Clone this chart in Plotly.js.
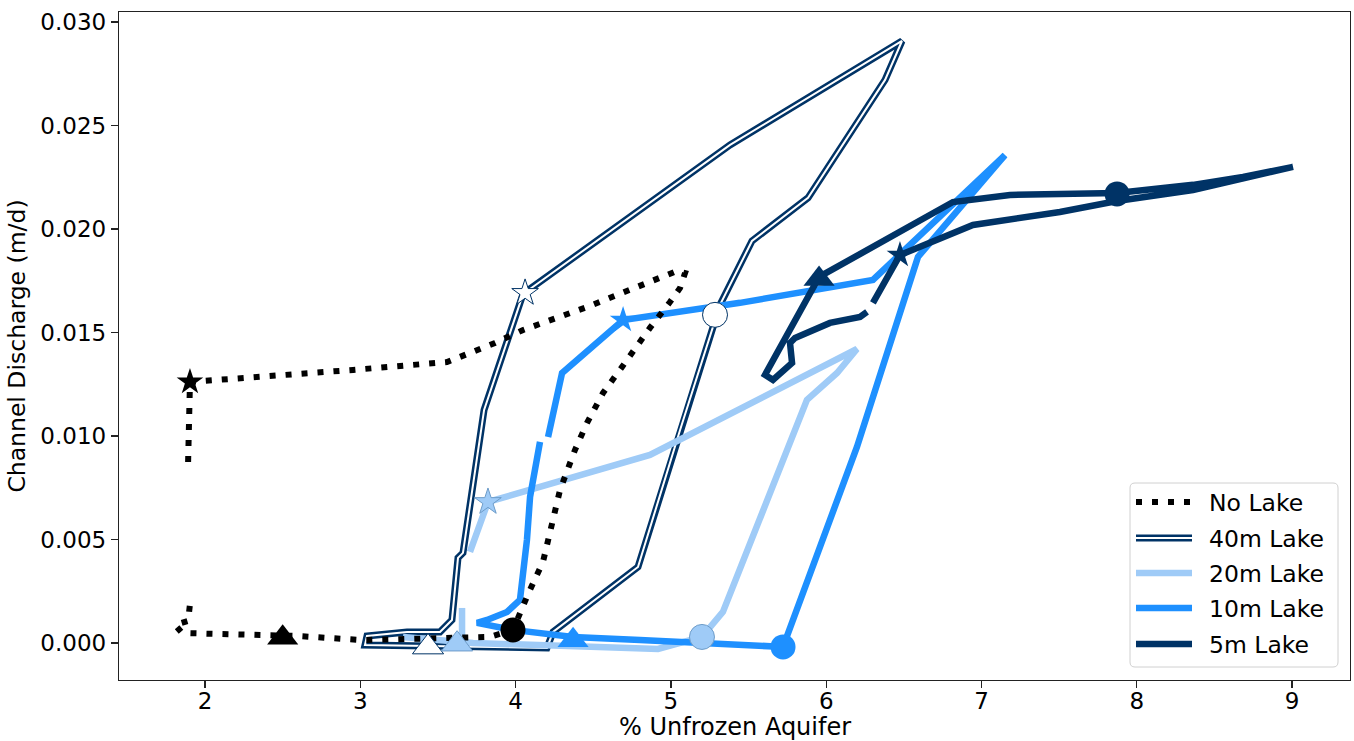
<!DOCTYPE html>
<html><head><meta charset="utf-8">
<script src="https://cdn.plot.ly/plotly-3.0.1.min.js"></script>
<style>html,body{margin:0;padding:0;background:#fff}#chart{width:1354px;height:741px}</style>
</head><body><div id="chart"></div>
<script>
// ---- data ----
const noLakeX = [1.891, 1.903, 2.953, 3.558, 3.867, 4.048, 4.460, 4.750, 5.039, 5.091, 5.059, 4.994, 4.865, 4.685, 4.563, 4.460, 4.382, 4.286, 4.176, 4.086, 4.048, 3.983, 3.835, 3.513, 3.011, 2.592, 1.852, 1.807, 1.891, 1.903];
const noLakeY = [0.00874, 0.01261, 0.01319, 0.01357, 0.01449, 0.01512, 0.01623, 0.01710, 0.01797, 0.01787, 0.01715, 0.01647, 0.01522, 0.01333, 0.01208, 0.01063, 0.00932, 0.00739, 0.00391, 0.00246, 0.00174, 0.00063, 0.00029, 0.00024, 0.00014, 0.00034, 0.00048, 0.00087, 0.00106, 0.00188];

const lake40X = [4.048, 5.381, 6.488, 6.379, 5.883, 5.522, 5.316, 5.059, 4.788, 4.241, 4.202, 3.030, 3.043, 3.301, 3.513, 3.590, 3.629, 3.661, 3.797, 4.048];
const lake40Y = [0.01686, 0.02406, 0.02908, 0.02720, 0.02150, 0.01942, 0.01633, 0.01029, 0.00367, 0.00053, -0.00024, -0.00010, 0.00034, 0.00053, 0.00053, 0.00111, 0.00411, 0.00435, 0.01126, 0.01686];

const lake20X = [3.706, 3.822, 4.865, 6.198, 6.070, 5.876, 5.335, 5.200, 4.917, 3.726, 3.275, null, 3.655, 3.655];
const lake20Y = [0.00440, 0.00681, 0.00908, 0.01420, 0.01304, 0.01174, 0.00150, 0.00029, -0.00029, 0.00000, 0.00029, null, 0.00169, 0.00000];

const lake10X = [7.151, 6.591, 6.198, 5.722, 4.801, 4.370, 3.983, 3.790, 3.751, 3.816, 3.945, 4.028, 4.073, 4.093, 4.157, null, 4.209, 4.267, 4.299, 4.692, 5.445, 6.301, 7.151];
const lake10Y = [0.02357, 0.01865, 0.00947, -0.00019, 0.00014, 0.00029, 0.00063, 0.00087, 0.00097, 0.00111, 0.00150, 0.00208, 0.00498, 0.00705, 0.00971, null, 0.00995, 0.01174, 0.01304, 0.01560, 0.01643, 0.01754, 0.02357];

const lake5X = [5.954, 6.816, 7.183, 7.873, 8.362, 8.684, 9.006, 8.684, 8.362, 7.873, 7.505, 6.945, 6.475, 6.301, null, 6.263, 6.218, 6.024, 5.799, 5.767, 5.780, 5.657, 5.606, 5.954];
const lake5Y = [0.01768, 0.02130, 0.02164, 0.02174, 0.02213, 0.02251, 0.02300, 0.02242, 0.02188, 0.02135, 0.02082, 0.02019, 0.01874, 0.01643, null, 0.01599, 0.01575, 0.01546, 0.01473, 0.01449, 0.01353, 0.01271, 0.01295, 0.01768];

// event markers: [star, circle, triangle]
const markerSymbols = ['star', 'circle', 'triangle-up'];
const noLakeMarkX = [1.903, 3.983, 2.500];
const noLakeMarkY = [0.01261, 0.00063, 0.00025];
const lake40MarkX = [4.061, 5.284, 3.436];
const lake40MarkY = [0.01691, 0.01585, -0.00020];
const lake20MarkX = [3.822, 5.200, 3.623];
const lake20MarkY = [0.00681, 0.00029, -0.00006];
const lake10MarkX = [4.692, 5.722, 4.370];
const lake10MarkY = [0.01560, -0.00019, 0.00013];
const lake5MarkX = [6.475, 7.873, 5.954];
const lake5MarkY = [0.01874, 0.02169, 0.01758];

const seriesNames = ['No Lake', '40m Lake', '20m Lake', '10m Lake', '5m Lake'];
const xTicks = [2, 3, 4, 5, 6, 7, 8, 9];
const yTicks = [0, 0.005, 0.010, 0.015, 0.020, 0.025, 0.030];
const xTitle = '% Unfrozen Aquifer';
const yTitle = 'Channel Discharge (m/d)';

// ---- styles ----
const NAVY = '#003366', LIGHT = '#9fcbf7', BLUE = '#1e90ff', BLACK = '#000000';
const LW = 6.5;
const FONT = 'DejaVu Sans';
const XRANGE = [1.446, 9.373];

const traces = [];
function line(x, y, name, color, width, dash) {
  traces.push({type: 'scatter', mode: 'lines', x: x, y: y, name: name, showlegend: false,
    hoverinfo: 'skip', line: {color: color, width: width, dash: dash || 'solid'}});
}
function marks(x, y, name, fill, edge, edgeW) {
  traces.push({type: 'scatter', mode: 'markers', x: x, y: y, name: name, showlegend: false,
    hoverinfo: 'skip',
    marker: {symbol: markerSymbols, size: [20, 25, 27], color: fill, opacity: 1,
      line: {color: edge, width: edgeW}}});
}
line(lake40X, lake40Y, seriesNames[1], NAVY, 7);
line(lake40X, lake40Y, seriesNames[1], '#ffffff', 2);
line(lake20X, lake20Y, seriesNames[2], LIGHT, LW);
line(lake10X, lake10Y, seriesNames[3], BLUE, LW);
line(lake5X, lake5Y, seriesNames[4], NAVY, LW);
line(noLakeX, noLakeY, seriesNames[0], BLACK, 6, '6px,10px');

marks(noLakeMarkX, noLakeMarkY, seriesNames[0], BLACK, BLACK, 0);
marks(lake40MarkX, lake40MarkY, seriesNames[1], '#ffffff', NAVY, 1);
marks(lake20MarkX, lake20MarkY, seriesNames[2], LIGHT, '#6d9cc9', 1);
marks(lake10MarkX, lake10MarkY, seriesNames[3], BLUE, BLUE, 0);
marks(lake5MarkX, lake5MarkY, seriesNames[4], NAVY, NAVY, 0);

// ---- manual legend (pixel layout converted to paper coords) ----
const PL = 119, PR = 1350, PT = 12, PB = 680;
const px = v => (v - PL) / (PR - PL);
const py = v => (PB - v) / (PB - PT);
const shapes = [];
const annotations = [];
(function () {
  const x0 = 1130, x1 = 1338, y0 = 483, y1 = 667, r = 5;
  const X0 = px(x0), X1 = px(x1), Y0 = py(y0), Y1 = py(y1);
  const rx = r / (PR - PL), ry = r / (PB - PT);
  const path = `M ${X0 + rx},${Y0} L ${X1 - rx},${Y0} Q ${X1},${Y0} ${X1},${Y0 - ry} L ${X1},${Y1 + ry} Q ${X1},${Y1} ${X1 - rx},${Y1} L ${X0 + rx},${Y1} Q ${X0},${Y1} ${X0},${Y1 + ry} L ${X0},${Y0 - ry} Q ${X0},${Y0} ${X0 + rx},${Y0} Z`;
  shapes.push({type: 'path', xref: 'paper', yref: 'paper', path: path,
    fillcolor: 'rgba(255,255,255,0.85)', line: {color: '#d0d0d0', width: 1}});
  const rows = [502, 538, 573, 608, 644];
  const sw0 = px(1136), sw1 = px(1192);
  const styles = [
    [{color: BLACK, width: 6, dash: '6px,10px'}],
    [{color: NAVY, width: 7}, {color: '#ffffff', width: 2}],
    [{color: LIGHT, width: LW}],
    [{color: BLUE, width: LW}],
    [{color: NAVY, width: LW}]
  ];
  rows.forEach((yy, i) => {
    styles[i].forEach(st => shapes.push({type: 'line', xref: 'paper', yref: 'paper',
      x0: sw0, x1: sw1, y0: py(yy), y1: py(yy), line: st}));
    annotations.push({xref: 'paper', yref: 'paper', x: px(1207), y: py(yy + 1), text: seriesNames[i],
      showarrow: false, xanchor: 'left', yanchor: 'middle', font: {family: FONT, size: 23.5, color: '#000'}});
  });
  // x-axis title placed as text below the tick labels
  annotations.push({xref: 'paper', yref: 'paper', x: 0.5, y: py(727), text: xTitle, showarrow: false,
    xanchor: 'center', yanchor: 'middle', borderpad: 0, font: {family: FONT, size: 24, color: '#000'}});
})();

const axisCommon = {showgrid: false, zeroline: false, showline: true, linecolor: '#222', linewidth: 1.2,
  mirror: true, ticks: 'outside', ticklen: 7, tickwidth: 1.2, tickcolor: '#222',
  tickfont: {family: FONT, size: 23, color: '#000'}};

const layout = {
  width: 1354, height: 741,
  margin: {l: PL, r: 1354 - PR, t: PT, b: 741 - PB},
  paper_bgcolor: '#ffffff', plot_bgcolor: '#ffffff',
  showlegend: false,
  font: {family: FONT, size: 23, color: '#000'},
  // visible frame + short tick marks
  xaxis: Object.assign({}, axisCommon, {range: XRANGE, tickvals: xTicks, showticklabels: false}),
  // label-only axis on the same scale, labels sit closer to the frame
  xaxis2: {overlaying: 'x', anchor: 'y', side: 'bottom', range: XRANGE, tickvals: xTicks,
    showgrid: false, zeroline: false, showline: false, ticks: 'outside', ticklen: 0,
    tickcolor: 'rgba(0,0,0,0)', tickfont: {family: FONT, size: 23, color: '#000'}},
  yaxis: Object.assign({}, axisCommon, {range: [-0.00179, 0.03048], tickvals: yTicks, tickformat: '.3f',
    title: {text: yTitle, font: {family: FONT, size: 23.5, color: '#000'}, standoff: 8}}),
  shapes: shapes,
  annotations: annotations
};

// an invisible helper trace keeps the label axis active
traces.push({type: 'scatter', mode: 'lines', x: XRANGE, y: [null, null], xaxis: 'x2', yaxis: 'y',
  showlegend: false, hoverinfo: 'skip', line: {width: 0}});

Plotly.newPlot('chart', traces, layout, {displayModeBar: false, staticPlot: true});
</script>
</body></html>
